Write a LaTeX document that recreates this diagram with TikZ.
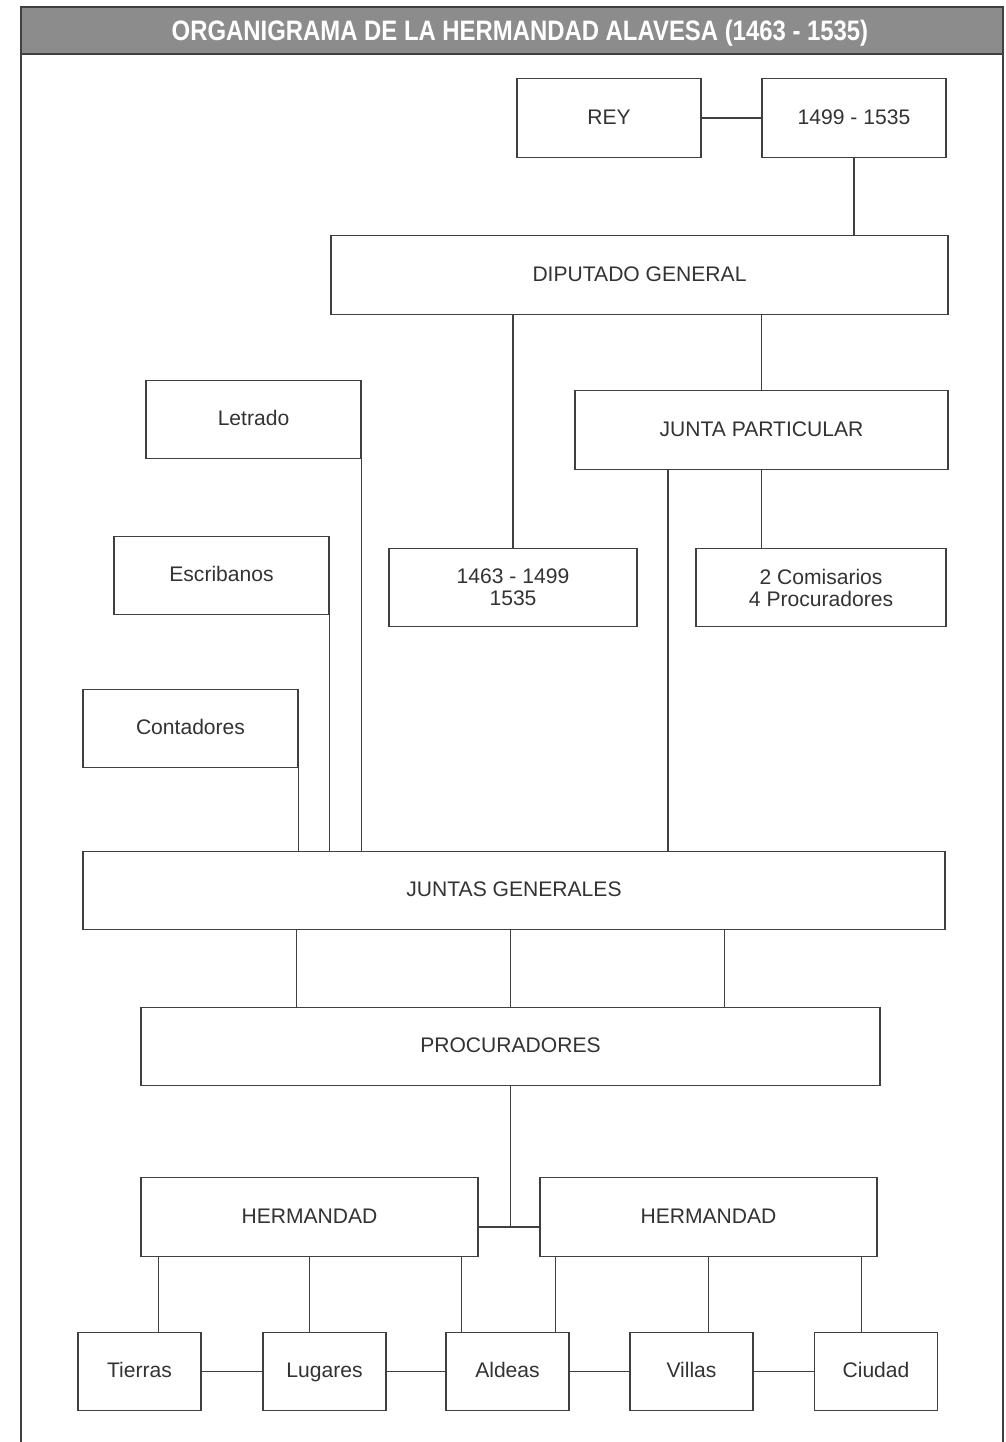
\documentclass[tikz,border=0pt]{standalone}
\usepackage{fontspec}
\setmainfont{Liberation Sans}
\newfontfamily\titulofont[FakeStretch=0.85]{Liberation Sans}
\usetikzlibrary{calc}
\definecolor{linea}{gray}{0.25}
\definecolor{tinta}{gray}{0.2}
\definecolor{franja}{gray}{0.55}
\tikzset{
	caja/.style={draw=linea, line width=0.8pt, fill=white, inner sep=0pt, minimum height=1.57cm,
		text=tinta, align=center, font=\fontsize{12}{12.5}\selectfont},
	unalinea/.style={caja, text height=0.72em, text depth=0pt},
	enlace/.style={draw=linea, line width=0.8pt},
}

\begin{document}
\begin{tikzpicture}[x=0.02cm, y=-0.02cm]
			%%%%% START %%%%%
			\useasboundingbox (0,0) rectangle (1005,1442);
			
			% marco y titulo
			\draw[line width=0.8pt, draw=linea, fill=franja] (21,7) rectangle (1003,54);
			\draw[line width=0.8pt, linea] (21,54) -- (21,1442);
			\draw[line width=0.8pt, linea] (1003,54) -- (1003,1442);
			\node[text=white, font=\titulofont\bfseries\fontsize{16}{18}\selectfont] (titulo) at (520,33) {ORGANIGRAMA DE LA HERMANDAD ALAVESA (1463 - 1535)};
			
			\node[unalinea, minimum width=3.68cm] (rey) at (609,118) {REY};
			\node[unalinea, minimum width=3.68cm] (reyanos) at (854,118) {1499 - 1535};
			\node[unalinea, minimum width=12.34cm] (diputado) at (639.5,275) {DIPUTADO GENERAL};
			
			\node[unalinea, minimum width=4.30cm] (letrado) at (253.5,419.5) {Letrado};
			\node[unalinea, minimum width=7.46cm] (jparticular) at (761.5,430) {JUNTA PARTICULAR};
			\node[unalinea, minimum width=4.30cm] (escribanos) at (221.5,575.5) {Escribanos};
			\node[caja, minimum width=4.96cm] (dipanos) at (513,587.5) {1463 - 1499\\1535};
			\node[caja, minimum width=5.00cm] (comisarios) at (821,587.5) {2 Comisarios\\4 Procuradores};
			\node[unalinea, minimum width=4.30cm] (contadores) at (190.5,728.5) {Contadores};
			
			\node[unalinea, minimum width=17.24cm] (jgenerales) at (514,890.5) {JUNTAS GENERALES};
			\node[unalinea, minimum width=14.78cm] (procuradores) at (510.5,1046.5) {PROCURADORES};
			\node[unalinea, minimum width=6.74cm] (hermandadA) at (309.5,1217) {HERMANDAD};
			\node[unalinea, minimum width=6.74cm] (hermandadB) at (708.5,1217) {HERMANDAD};
			
			\node[unalinea, minimum width=2.46cm] (tierras) at (139.5,1371.5) {Tierras};
			\node[unalinea, minimum width=2.46cm] (lugares) at (324.5,1371.5) {Lugares};
			\node[unalinea, minimum width=2.46cm] (aldeas) at (507.5,1371.5) {Aldeas};
			\node[unalinea, minimum width=2.46cm] (villas) at (691.5,1371.5) {Villas};
			\node[unalinea, minimum width=2.46cm] (ciudad) at (876,1371.5) {Ciudad};
			
			% lineas de arriba
			\draw[enlace] (rey) -- (reyanos);
			\draw[enlace] (reyanos.south) -- (reyanos.south |- diputado.north);
			\draw[enlace] (dipanos.north) -- (dipanos.north |- diputado.south);
			\draw[enlace] (jparticular.north) -- (jparticular.north |- diputado.south);
			\draw[enlace] (jparticular.south) -- (jparticular.south |- comisarios.north);
			\coordinate (jpbase) at ($(jparticular.south west)!0.25!(jparticular.south east)$);
			\draw[enlace] (jpbase) -- (jpbase |- jgenerales.north);
			\foreach \cargo in {letrado, escribanos, contadores}
				\draw[enlace] (\cargo.south east) -- (\cargo.south east |- jgenerales.north);
			
			% juntas generales y procuradores
			\foreach \dx [count=\i] in {-214, 0, 214} {
				\coordinate (pb\i) at ($(procuradores.north)+(\dx,0)$);
				\draw[enlace] (pb\i) -- (pb\i |- jgenerales.south);
			}
			\coordinate (union) at ($(hermandadA.east)!0.5!(hermandadB.west)+(0,10)$);
			\draw[enlace] (procuradores.south) -- (procuradores.south |- union);
			\draw[enlace] (hermandadA.east |- union) -- (hermandadB.west |- union);
			
			% hermandades
			\coordinate (hA1) at ($(hermandadA.south west)+(18,0)$);
			\coordinate (hA3) at ($(hermandadA.south east)+(-17,0)$);
			\coordinate (hB1) at ($(hermandadB.south west)+(16,0)$);
			\coordinate (hB3) at ($(hermandadB.south east)+(-16,0)$);
			\draw[enlace] (hA1) -- (hA1 |- tierras.north);
			\draw[enlace] (hermandadA.south) -- (hermandadA.south |- lugares.north);
			\draw[enlace] (hA3) -- (hA3 |- aldeas.north);
			\draw[enlace] (hB1) -- (hB1 |- aldeas.north);
			\draw[enlace] (hermandadB.south) -- (hermandadB.south |- villas.north);
			\draw[enlace] (hB3) -- (hB3 |- ciudad.north);
			\draw[enlace] (tierras) -- (lugares) -- (aldeas) -- (villas) -- (ciudad);
			
			%%%%% END %%%%%
\end{tikzpicture}
\end{document}
